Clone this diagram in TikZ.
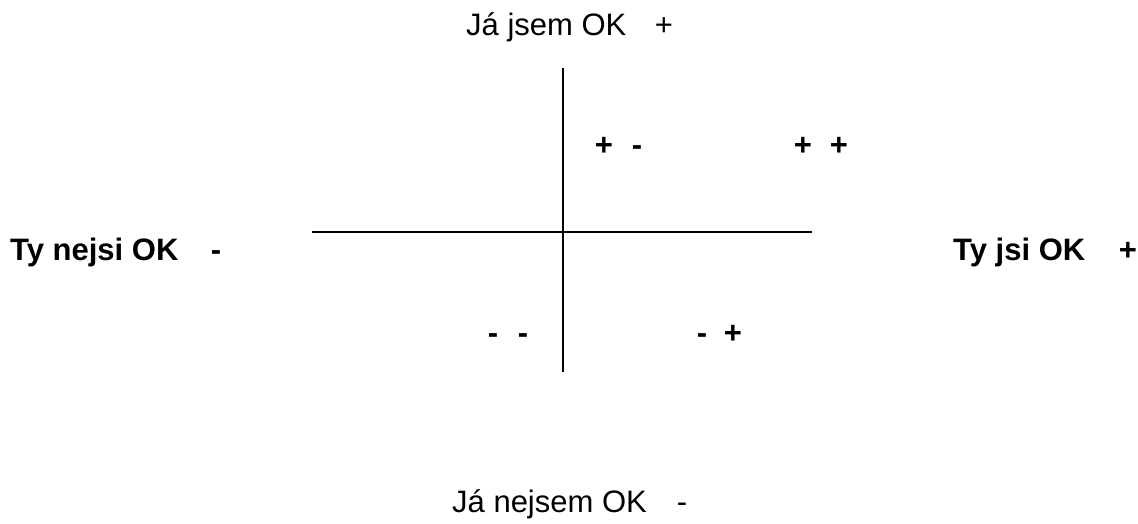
\documentclass[tikz,border=0pt]{standalone}
\usepackage{fontspec}
\setmainfont{Liberation Sans}
\begin{document}
\begin{tikzpicture}[x=1pt,y=1pt,
  lbl/.style={inner sep=0pt, font=\fontsize{31}{36}\selectfont},
  blbl/.style={inner sep=0pt, font=\fontsize{31}{36}\selectfont\bfseries},
  axis/.style={line width=1.5pt, black}]
\useasboundingbox (0,0) rectangle (1138,524);
% axes
\coordinate (vtop) at (563,456);
\coordinate (vbot) at (563,152);
\coordinate (hl) at (312,292);
\coordinate (hr) at (812,292);
\draw[axis] (vtop) -- (vbot);
\draw[axis] (hl) -- (hr);
% axis labels
\node[lbl, anchor=base west] (topT) at (466,488) {Já jsem OK};
\node[lbl, anchor=base] (topS) at (664,488) {+};
\node[lbl, anchor=base west] (botT) at (452,11) {Já nejsem OK};
\node[lbl, anchor=base] (botS) at (682,11) {-};
\node[blbl, anchor=base west] (leftT) at (10,263) {Ty nejsi OK};
\node[blbl, anchor=base] (leftS) at (216,263) {-};
\node[blbl, anchor=base west] (rightT) at (953,263) {Ty jsi OK};
\node[blbl, anchor=base] (rightS) at (1128,263) {+};
% quadrant signs
\node[blbl, anchor=base] (q1a) at (604,368) {+};
\node[blbl, anchor=base] (q1b) at (637,368) {-};
\node[blbl, anchor=base] (q2a) at (803,368) {+};
\node[blbl, anchor=base] (q2b) at (839,368) {+};
\node[blbl, anchor=base] (q3a) at (493,180) {-};
\node[blbl, anchor=base] (q3b) at (523,180) {-};
\node[blbl, anchor=base] (q4a) at (702,180) {-};
\node[blbl, anchor=base] (q4b) at (733,180) {+};
\end{tikzpicture}
\end{document}
